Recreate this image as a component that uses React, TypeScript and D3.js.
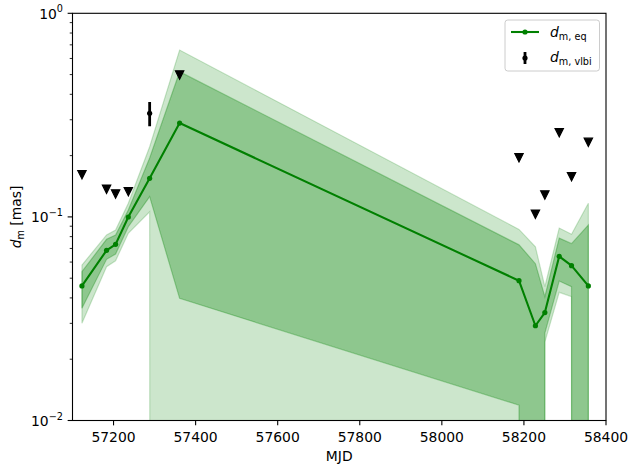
import React from "react";
import * as d3 from "d3";

// ---- data ----
const mjd = [57123, 57183, 57205, 57236, 57288, 57361, 58188, 58228, 58251, 58286, 58316, 58357];
const dmEq = [0.0458, 0.0685, 0.0733, 0.0999, 0.1547, 0.2891, 0.0486, 0.0292, 0.0339, 0.064, 0.0576, 0.0458];
const outerHi = [0.058, 0.0815, 0.0862, 0.1166, 0.2212, 0.66, 0.0868, 0.0713, 0.0454, 0.0882, 0.0822, 0.1166];
const innerHi = [0.0538, 0.0776, 0.0815, 0.1081, 0.1947, 0.5166, 0.0729, 0.0589, 0.0406, 0.0787, 0.0739, 0.0912];
const innerLo = [0.0356, 0.0619, 0.0657, 0.0895, 0.1257, 0.0398, 0.0119, 0, 0.0269, 0.0484, 0.0454, 0];
const outerLo = [0.03, 0.0569, 0.0609, 0.0831, 0.106, 0, 0, 0, 0.0243, 0.0426, 0.0406, 0];

const limMjd = [57123, 57183, 57205, 57236, 57361, 58188, 58228, 58251, 58286, 58316, 58357];
const limVal = [0.1612, 0.1367, 0.1296, 0.133, 0.4977, 0.1953, 0.103, 0.1281, 0.2592, 0.1576, 0.2325];

const vlbiMjd = [57288];
const vlbiVal = [0.323];
const vlbiErr = [0.044];

const xTicks = [57200, 57400, 57600, 57800, 58000, 58200, 58400];
const yMajor = [0.01, 0.1, 1];
const yMajorExp = ["\u22122", "\u22121", "0"];

const W = 630, H = 466;
const L = 72.5, R = 606, T = 13.3, B = 420.5;
const FONT = "DejaVu Sans";
const FS = 13.9;

export default function App() {
  const x = d3.scaleLinear().domain([57100, 58400]).range([L, R]);
  const y = d3.scaleLog().domain([0.01, 1]).range([B, T]);
  const sy = (v: number) => y(v > 0 ? v : 1e-300);
  const idx = mjd.map((_, i) => i);

  const area = (lo: number[], hi: number[]) =>
    d3.area<number>().x(i => x(mjd[i])).y0(i => sy(lo[i])).y1(i => sy(hi[i]))(idx) || "";
  const line = d3.line<number>().x(i => x(mjd[i])).y(i => y(dmEq[i]))(idx) || "";

  const minor: number[] = [];
  for (const dec of [0.01, 0.1]) for (let k = 2; k <= 9; k++) minor.push(dec * k);

  const tri = (cx: number, cy: number, s = 4.17) =>
    `M${cx},${cy + s}L${cx - s},${cy - s}L${cx + s},${cy - s}Z`;

  return (
    <svg width={W} height={H} style={{ position: "absolute", left: 0, top: 0, display: "block" }}
      fontFamily={FONT}>
      <defs>
        <clipPath id="plot"><rect x={L} y={T} width={R - L} height={B - T} /></clipPath>
      </defs>
      <rect x={0} y={0} width={W} height={H} fill="white" />
      <g clipPath="url(#plot)">
        <path d={area(outerLo, outerHi)} fill="green" fillOpacity={0.2} stroke="green" strokeOpacity={0.2} strokeWidth={1.2} />
        <path d={area(innerLo, innerHi)} fill="green" fillOpacity={0.3} stroke="green" strokeOpacity={0.3} strokeWidth={1.2} />
        <path d={line} fill="none" stroke="#008000" strokeWidth={2.08} strokeLinejoin="round" />
        {idx.map(i => (
          <circle key={i} cx={x(mjd[i])} cy={y(dmEq[i])} r={2.6} fill="#008000" />
        ))}
        {limMjd.map((m, i) => (
          <path key={i} d={tri(x(m), y(limVal[i]))} fill="black" stroke="black" strokeWidth={1.2} strokeLinejoin="miter" />
        ))}
        {vlbiMjd.map((m, i) => (
          <g key={i}>
            <line x1={x(m)} x2={x(m)} y1={y(vlbiVal[i] - vlbiErr[i])} y2={y(vlbiVal[i] + vlbiErr[i])} stroke="black" strokeWidth={2.8} />
            <circle cx={x(m)} cy={y(vlbiVal[i])} r={2.6} fill="black" />
          </g>
        ))}
      </g>
      {/* spines */}
      <rect x={L} y={T} width={R - L} height={B - T} fill="none" stroke="black" strokeWidth={1.1} />
      {/* x ticks */}
      {xTicks.map(t => (
        <g key={t}>
          <line x1={x(t)} x2={x(t)} y1={B} y2={B + 4.86} stroke="black" strokeWidth={1.1} />
          <text x={x(t)} y={442} fontSize={FS} textAnchor="middle">{t}</text>
        </g>
      ))}
      <text x={(L + R) / 2} y={461} fontSize={FS} textAnchor="middle">MJD</text>
      {/* y ticks */}
      {minor.map(t => (
        <line key={t} x1={L} x2={L - 2.78} y1={y(t)} y2={y(t)} stroke="black" strokeWidth={0.83} />
      ))}
      {yMajor.map((t, i) => (
        <g key={t}>
          <line x1={L} x2={L - 4.86} y1={y(t)} y2={y(t)} stroke="black" strokeWidth={1.1} />
          <text x={63} y={y(t) + 5.5} fontSize={FS} textAnchor="end">
            10<tspan fontSize={9.7} dy={-6.5}>{yMajorExp[i]}</tspan>
          </text>
        </g>
      ))}
      <text transform={`translate(21,${(T + B) / 2}) rotate(-90)`} fontSize={FS} textAnchor="middle">
        <tspan fontStyle="italic">d</tspan>
        <tspan fontSize={9.7} dy={3}>m</tspan>
        <tspan dy={-3}> [mas]</tspan>
      </text>
      {/* legend */}
      <rect x={505} y={20} width={94.5} height={51} rx={2.8} fill="white" fillOpacity={0.8} stroke="#cccccc" strokeWidth={1} />
      <line x1={511} x2={539} y1={32} y2={32} stroke="#008000" strokeWidth={2.08} />
      <circle cx={525} cy={32} r={2.6} fill="#008000" />
      <text x={550} y={37} fontSize={FS}>
        <tspan fontStyle="italic">d</tspan>
        <tspan fontSize={9.7} dy={3}>m, eq</tspan>
      </text>
      <line x1={525} x2={525} y1={52} y2={64} stroke="black" strokeWidth={2.8} />
      <circle cx={525} cy={58} r={2.6} fill="black" />
      <text x={550} y={62} fontSize={FS}>
        <tspan fontStyle="italic">d</tspan>
        <tspan fontSize={9.7} dy={3}>m, vlbi</tspan>
      </text>
    </svg>
  );
}
